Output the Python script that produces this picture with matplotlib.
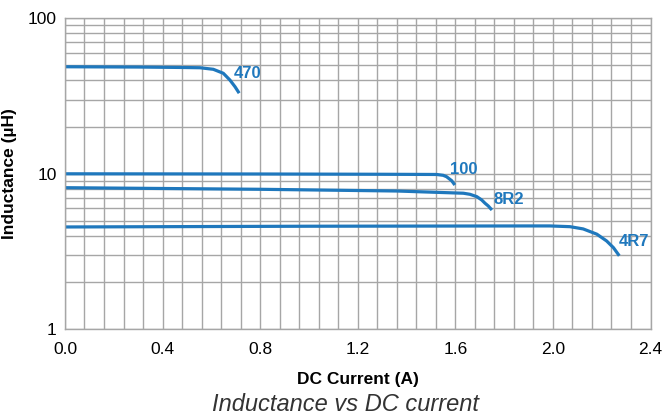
import numpy as np
import matplotlib
matplotlib.use("Agg")
import matplotlib.pyplot as plt
from matplotlib.ticker import FixedLocator, MultipleLocator, NullFormatter

plt.rcParams['font.family'] = ['Liberation Sans', 'DejaVu Sans']

# curves (A, uH)
i_470 = [0.0, 0.30, 0.471, 0.553, 0.608, 0.649, 0.676, 0.697, 0.714]
l_470 = [48.8, 48.6, 48.3, 48.1, 47.0, 44.3, 40.1, 36.3, 33.0]

i_100 = [0.0, 0.8, 1.30, 1.523, 1.55, 1.564, 1.585, 1.598]
l_100 = [10.0, 9.97, 9.93, 9.9, 9.78, 9.58, 9.03, 8.47]

i_8r2 = [0.0, 0.8, 1.36, 1.633, 1.66, 1.688, 1.708, 1.722, 1.735, 1.75]
l_8r2 = [8.14, 7.95, 7.75, 7.5, 7.38, 7.13, 6.79, 6.46, 6.21, 5.85]

i_4r7 = [0.0, 1.0, 1.906, 1.988, 2.07, 2.124, 2.18, 2.22, 2.248, 2.272]
l_4r7 = [4.55, 4.6, 4.62, 4.62, 4.57, 4.42, 4.09, 3.70, 3.35, 2.97]

labels = ["470", "100", "8R2", "4R7"]
label_pos = [(0.69, 44.3), (1.58, 10.7), (1.755, 6.86), (2.27, 3.66)]

x_ticks = [0.0, 0.4, 0.8, 1.2, 1.6, 2.0, 2.4]
y_ticks = [1, 10, 100]

blue = "#1f78bd"
grid = "#a6a6a6"

fig = plt.figure(figsize=(6.65, 4.2), dpi=100)
ax = fig.add_axes([0.0977, 0.216, 0.8805, 0.7404])

ax.set_yscale("log")
ax.set_xlim(0, 2.4)
ax.set_ylim(1, 100)

ax.xaxis.set_major_locator(FixedLocator(x_ticks))
ax.xaxis.set_minor_locator(MultipleLocator(0.08))
ax.yaxis.set_major_locator(FixedLocator(y_ticks))
ax.yaxis.set_minor_locator(FixedLocator([m * d for d in (1, 10) for m in range(2, 10)]))
ax.yaxis.set_minor_formatter(NullFormatter())
ax.set_yticklabels([str(v) for v in y_ticks])
ax.set_xticklabels(["%.1f" % v for v in x_ticks])

ax.grid(True, which="both", color=grid, linewidth=1.0)
ax.set_axisbelow(True)
for s in ax.spines.values():
    s.set_color(grid)
    s.set_linewidth(1.0)
ax.tick_params(which="both", length=0, labelsize=12.5, colors="black")
ax.tick_params(axis="x", pad=9)
ax.tick_params(axis="y", pad=6)

for xs, ys in [(i_470, l_470), (i_100, l_100), (i_8r2, l_8r2), (i_4r7, l_4r7)]:
    ax.plot(xs, ys, color=blue, linewidth=2.3, solid_capstyle="butt",
            solid_joinstyle="round")

for txt, (x, y) in zip(labels, label_pos):
    ax.text(x, y, txt, color=blue, fontsize=12, fontweight="bold", ha="left", va="center")

ax.set_xlabel("DC Current (A)", fontsize=12.5, fontweight="bold", labelpad=11)
ax.set_ylabel("Inductance (\u00b5H)", fontsize=12.5, fontweight="bold")
ax.yaxis.set_label_coords(-0.082, 0.5)

fig.text(0.52, 0.038, "Inductance vs DC current", fontsize=17, style="italic",
         color="#333333", ha="center", va="center")

fig.savefig("out.png", dpi=100)
